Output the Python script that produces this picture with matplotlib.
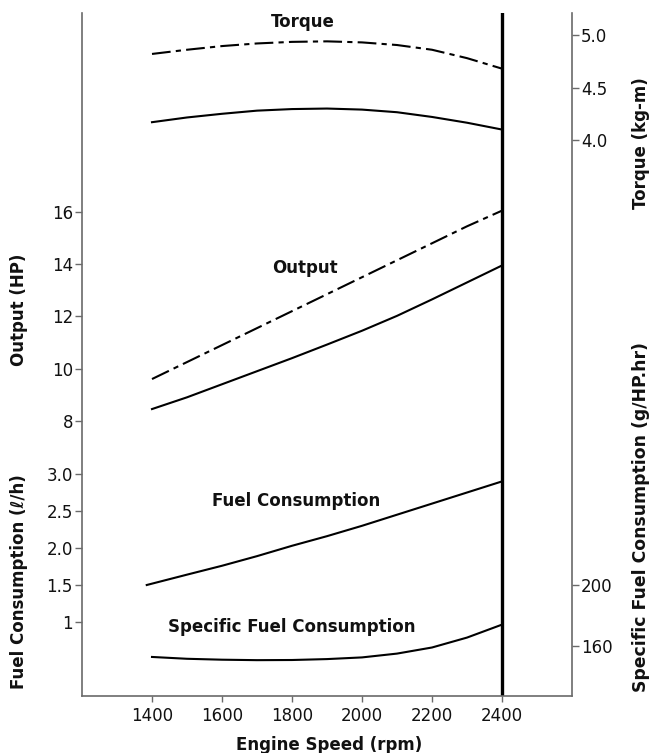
import matplotlib.pyplot as plt

plt.rcParams['font.family'] = ['DejaVu Sans']

# engine speed (rpm)
rpm = [1400, 1500, 1600, 1700, 1800, 1900, 2000, 2100, 2200, 2300, 2400]
rpm_fuel = [1385, 1500, 1600, 1700, 1800, 1900, 2000, 2100, 2200, 2300, 2400]

# torque (kg-m)
torque_max = [4.82, 4.86, 4.895, 4.92, 4.935, 4.94, 4.93, 4.905, 4.86, 4.78, 4.68]
torque_cont = [4.17, 4.215, 4.25, 4.28, 4.295, 4.30, 4.29, 4.265, 4.22, 4.165, 4.10]

# output (HP)
output_max = [9.6, 10.25, 10.9, 11.55, 12.2, 12.85, 13.5, 14.15, 14.8, 15.45, 16.05]
output_cont = [8.45, 8.9, 9.4, 9.9, 10.4, 10.92, 11.45, 12.02, 12.65, 13.3, 13.95]

# fuel consumption (l/h)
fuel = [1.50, 1.64, 1.76, 1.89, 2.03, 2.16, 2.30, 2.45, 2.60, 2.75, 2.90]

# specific fuel consumption (g/HP.hr)
sfc = [152.8, 151.6, 151.0, 150.7, 150.8, 151.4, 152.5, 155.0, 159.0, 165.5, 174.0]

x_ticks = [1400, 1600, 1800, 2000, 2200, 2400]
hp_ticks = [8, 10, 12, 14, 16]
fuel_ticks = [1, 1.5, 2.0, 2.5, 3.0]
fuel_labels = ['1', '1.5', '2.0', '2.5', '3.0']
torque_ticks = [4.0, 4.5, 5.0]
torque_labels = ['4.0', '4.5', '5.0']
sfc_ticks = [160, 200]

W, H = 651, 753
fig = plt.figure(figsize=(W / 100, H / 100), dpi=100)
left, right, top, bottom = 82, 572, 13, 696
ax = fig.add_axes([left / W, (H - bottom) / H, (right - left) / W, (bottom - top) / H])

dash = (0, (9, 2.5, 2.5, 2.5))
spine_col = '#6a6a6a'
lw = 1.5

# output axis (left, main)
ax.set_xlim(1200, 2600)
ax.set_ylim(-2.54, 23.62)
ax.plot(rpm, output_max, color='black', lw=lw, linestyle=dash)
ax.plot(rpm, output_cont, color='black', lw=lw)
ax.set_yticks(hp_ticks)
ax.set_xticks(x_ticks)

# fuel consumption axis (left)
ax_fc = ax.twinx()
ax_fc.set_ylim(0, 9.23)
ax_fc.plot(rpm_fuel, fuel, color='black', lw=lw)
ax_fc.yaxis.set_ticks_position('left')
ax_fc.set_yticks(fuel_ticks)
ax_fc.set_yticklabels(fuel_labels)

# torque axis (right)
ax_tq = ax.twinx()
ax_tq.set_ylim(-1.295, 5.21)
ax_tq.plot(rpm, torque_max, color='black', lw=lw, linestyle=dash)
ax_tq.plot(rpm, torque_cont, color='black', lw=lw)
ax_tq.set_yticks(torque_ticks)
ax_tq.set_yticklabels(torque_labels)

# specific fuel consumption axis (right)
ax_sfc = ax.twinx()
ax_sfc.set_ylim(127.2, 575)
ax_sfc.plot(rpm, sfc, color='black', lw=lw)
ax_sfc.set_yticks(sfc_ticks)

for a in (ax, ax_fc, ax_tq, ax_sfc):
    for s in a.spines.values():
        s.set_visible(False)
    a.tick_params(length=5, width=1, color=spine_col, labelsize=12, pad=1.5, labelcolor='#111111')

ax.spines['left'].set_visible(True)
ax.spines['bottom'].set_visible(True)
ax_tq.spines['right'].set_visible(True)
for s in (ax.spines['left'], ax.spines['bottom'], ax_tq.spines['right']):
    s.set_color(spine_col)
    s.set_linewidth(1.2)
ax.tick_params(axis='x', length=4, pad=4)

ax.axvline(2400, color='black', lw=2.4)

# curve labels
tr = ax.get_xaxis_transform()
lab = dict(ha='center', va='center', fontsize=12, fontweight='bold', color='#111111')
ax.text(1831, 0.987, 'Torque', transform=tr, **lab)
ax.text(1837, 0.627, 'Output', transform=tr, **lab)
ax.text(1811, 0.2855, 'Fuel Consumption', transform=tr, **lab)
ax.text(1800, 0.101, 'Specific Fuel Consumption', transform=tr, **lab)

# axis titles
fig.text(329 / W, 1 - 745 / H, 'Engine Speed (rpm)', **lab)
fig.text(19 / W, 1 - 310 / H, 'Output (HP)', rotation=90, **lab)
fig.text(19 / W, 1 - 582 / H, 'Fuel Consumption (\u2113/h)', rotation=90, **lab)
fig.text(641 / W, 1 - 143 / H, 'Torque (kg-m)', rotation=90, **lab)
fig.text(641 / W, 1 - 517 / H, 'Specific Fuel Consumption (g/HP.hr)', rotation=90, fontsize=12.4,
         **{k: v for k, v in lab.items() if k != 'fontsize'})

fig.savefig('out.png', dpi=100)
